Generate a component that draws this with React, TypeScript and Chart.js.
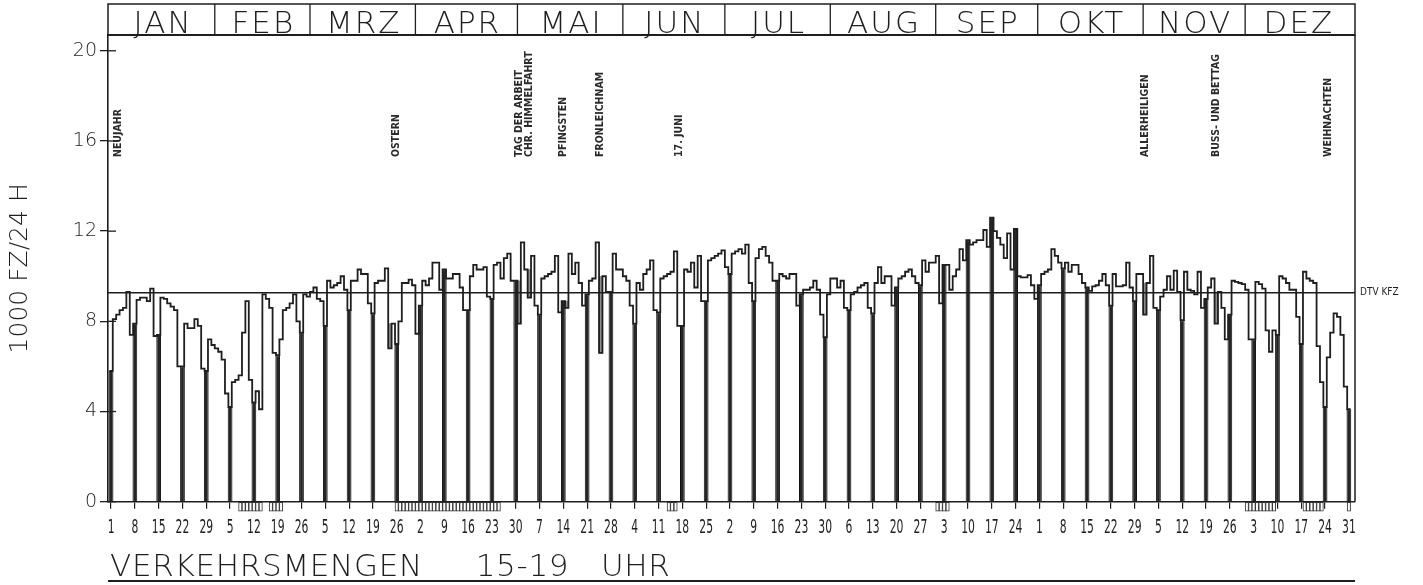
import { useEffect, useRef } from "react";
import { Chart, registerables } from "chart.js";

Chart.register(...registerables);

// ---------- DATA ----------
const MONTHS = ["JAN", "FEB", "MRZ", "APR", "MAI", "JUN", "JUL", "AUG", "SEP", "OKT", "NOV", "DEZ"];
const MONTH_LENGTHS = [31, 28, 31, 30, 31, 30, 31, 31, 30, 31, 30, 31];

// daily traffic (1000 vehicles), 1989
const JAN = [5.8, 8.1, 8.3, 8.5, 8.6, 9.3, 7.4, 7.9, 8.95, 9.05, 9.05, 8.9, 9.45, 7.35, 7.4, 9.05, 9.0, 8.8, 8.65, 8.5, 6.0, 6.0, 7.9, 7.7, 7.7, 8.1, 7.8, 5.9, 5.8, 7.2, 6.95];
const FEB = [6.8, 6.65, 6.3, 4.8, 4.2, 5.3, 5.4, 5.6, 7.5, 8.9, 5.4, 4.4, 4.9, 4.1, 9.2, 9.0, 8.6, 6.6, 6.5, 7.2, 8.5, 8.6, 8.8, 9.2, 8.0, 7.5, 9.2, 9.1];
const MRZ = [9.3, 9.5, 9.0, 8.9, 7.8, 9.8, 9.5, 9.6, 9.7, 10.0, 9.4, 8.5, 9.8, 9.8, 10.3, 10.1, 10.1, 8.8, 8.35, 9.7, 9.8, 9.8, 10.35, 6.8, 7.9, 7.0, 8.0, 9.7, 9.7, 9.85, 9.6];
const APR = [7.45, 8.7, 9.8, 9.6, 9.9, 10.6, 10.6, 9.4, 10.3, 9.9, 9.9, 10.1, 10.1, 9.5, 8.5, 8.5, 10.0, 10.5, 10.3, 10.3, 10.4, 9.1, 9.0, 10.5, 10.6, 9.9, 10.8, 11.0, 9.8, 9.8];
const MAI = [7.9, 11.5, 10.3, 9.05, 10.9, 8.7, 8.3, 9.9, 10.0, 10.1, 10.2, 10.9, 8.4, 8.9, 8.6, 11.0, 10.1, 10.6, 9.7, 8.7, 9.2, 9.8, 9.9, 11.5, 6.6, 10.0, 9.3, 9.3, 11.0, 10.3, 10.3];
const JUN = [10.0, 9.8, 8.7, 7.9, 9.7, 9.4, 10.1, 10.3, 10.7, 8.5, 8.4, 9.9, 10.0, 10.1, 10.2, 11.1, 7.8, 7.8, 10.3, 10.2, 10.6, 9.5, 10.9, 8.9, 8.9, 10.7, 10.8, 10.9, 11.0, 11.15];
const JUL = [10.4, 10.1, 11.0, 11.1, 11.2, 11.0, 11.4, 9.7, 8.9, 10.8, 11.2, 11.3, 10.9, 10.6, 9.8, 9.8, 10.1, 10.0, 9.9, 10.1, 10.1, 8.7, 9.2, 9.4, 9.4, 9.5, 9.8, 9.4, 8.3, 7.3, 9.2];
const AUG = [9.9, 9.9, 9.5, 9.8, 8.6, 8.5, 9.2, 9.3, 9.5, 9.6, 9.7, 8.6, 8.35, 9.7, 10.4, 9.7, 10.0, 10.0, 8.7, 9.5, 9.9, 10.0, 10.2, 10.3, 10.0, 9.7, 9.6, 10.7, 10.2, 10.6, 10.6];
const SEP = [10.9, 8.8, 10.5, 10.5, 9.4, 10.0, 10.3, 11.2, 10.7, 11.6, 11.4, 11.5, 11.6, 11.6, 12.05, 11.3, 12.6, 12.0, 11.7, 11.4, 10.8, 11.9, 10.3, 12.1, 10.0, 9.95, 9.95, 10.05, 9.6, 9.0];
const OKT = [9.6, 10.1, 10.2, 10.3, 11.2, 10.9, 10.6, 10.35, 10.6, 10.2, 10.5, 10.5, 10.1, 9.7, 9.5, 9.35, 9.55, 9.6, 9.8, 10.1, 9.6, 8.7, 10.1, 9.55, 9.55, 9.6, 10.6, 9.5, 8.9, 10.1, 10.1];
const NOV = [8.3, 9.7, 10.9, 8.6, 8.5, 9.1, 9.4, 10.0, 9.4, 10.25, 9.3, 8.05, 10.2, 9.4, 9.35, 9.2, 10.2, 8.6, 9.0, 9.5, 9.9, 7.9, 9.3, 8.6, 7.2, 8.3, 9.8, 9.75, 9.7, 9.65];
const DEZ = [9.4, 7.2, 7.2, 9.75, 9.65, 9.45, 7.6, 6.65, 7.6, 7.4, 10.0, 9.9, 9.7, 9.4, 9.4, 8.2, 7.0, 10.2, 9.9, 9.8, 9.7, 6.9, 5.3, 4.2, 6.4, 7.5, 8.35, 8.2, 7.4, 5.1, 4.1];

const DAILY_VALUES = [...JAN, ...FEB, ...MRZ, ...APR, ...MAI, ...JUN, ...JUL, ...AUG, ...SEP, ...OKT, ...NOV, ...DEZ];

const DTV_KFZ = 9.27;
const Y_TICKS = [0, 4, 8, 12, 16, 20];

// weekly ticks (Sundays of 1989), day of year
const X_TICK_DAYS = [1, 8, 15, 22, 29, 36, 43, 50, 57, 64, 71, 78, 85, 92, 99, 106, 113, 120, 127, 134, 141, 148, 155, 162, 169, 176, 183, 190, 197, 204, 211, 218, 225, 232, 239, 246, 253, 260, 267, 274, 281, 288, 295, 302, 309, 316, 323, 330, 337, 344, 351, 358, 365];
const X_TICK_LABELS = ["1", "8", "15", "22", "29", "5", "12", "19", "26", "5", "12", "19", "26", "2", "9", "16", "23", "30", "7", "14", "21", "28", "4", "11", "18", "25", "2", "9", "16", "23", "30", "6", "13", "20", "27", "3", "10", "17", "24", "1", "8", "15", "22", "29", "5", "12", "19", "26", "3", "10", "17", "24", "31"];
const SUNDAY_DAYS = X_TICK_DAYS;

const HOLIDAY_LABEL_DAYS = [1, 85, 121, 124, 134, 145, 168, 305, 326, 359];
const HOLIDAY_LABELS = ["NEUJAHR", "OSTERN", "TAG DER ARBEIT", "CHR. HIMMELFAHRT", "PFINGSTEN", "FRONLEICHNAM", "17. JUNI", "ALLERHEILIGEN", "BUSS- UND BETTAG", "WEIHNACHTEN"];
const SHADED_HOLIDAY_DAYS = [83, 86, 121, 124, 135, 145, 305, 326, 359, 360];

// school holidays (first day, last day)
const SCHOOL_HOLIDAY_RANGES = [[39, 45], [48, 51], [85, 115], [165, 167], [244, 247], [335, 343], [352, 357], [365, 365]];

const X_TITLE = "VERKEHRSMENGEN     15-19   UHR";
const Y_TITLE = "1000 FZ/24 H";

// ---------- STYLE ----------
const INK = "#1e1e1e";
const X_MIN = 0.1;
const X_MAX = 366.8;
const Y_MAX = 20.7;
const HEADER_TOP = 4;

const decorPlugin = {
  id: "decor",
  afterDraw(chart: any) {
    const { ctx, chartArea, scales } = chart;
    const { left, right, top, bottom } = chartArea;
    const x = scales.x;
    const y = scales.y;
    const line = (x1: number, y1: number, x2: number, y2: number, w = 1.4) => {
      ctx.lineWidth = w;
      ctx.beginPath();
      ctx.moveTo(x1, y1);
      ctx.lineTo(x2, y2);
      ctx.stroke();
    };
    ctx.save();
    ctx.strokeStyle = INK;
    ctx.fillStyle = INK;

    // header box with months
    ctx.lineWidth = 1.5;
    ctx.strokeRect(left, HEADER_TOP, right - left, top - HEADER_TOP);
    line(left, top, right, top, 2);
    ctx.font = '200 31px "DejaVu Sans"';
    ctx.textAlign = "center";
    ctx.textBaseline = "alphabetic";
    let cum = 0;
    MONTHS.forEach((m, i) => {
      const start = cum;
      cum += MONTH_LENGTHS[i];
      if (i > 0) {
        const px = x.getPixelForValue(start + 0.5);
        line(px, HEADER_TOP, px, top, 1.3);
      }
      const cx = x.getPixelForValue((start + cum) / 2 + 0.5);
      (ctx as any).letterSpacing = "2px";
      ctx.fillText(m, cx + 1, top - 2);
      (ctx as any).letterSpacing = "0px";
    });

    // right border
    line(right, top, right, bottom, 1.5);

    // inner part of y ticks
    Y_TICKS.forEach((v) => {
      const py = y.getPixelForValue(v);
      line(left, py, left + 8, py, 1.3);
    });

    // x tick labels (narrow plotter digits)
    ctx.font = '400 20px "DejaVu Sans Condensed", "DejaVu Sans"';
    ctx.textAlign = "center";
    ctx.textBaseline = "alphabetic";
    X_TICK_DAYS.forEach((d, i) => {
      const px = x.getPixelForValue(d);
      ctx.save();
      ctx.translate(px, 533);
      ctx.scale(0.6, 1);
      ctx.fillText(X_TICK_LABELS[i], 0, 0);
      ctx.restore();
    });

    // bottom title
    ctx.font = '200 31px "DejaVu Sans"';
    ctx.textAlign = "left";
    ctx.textBaseline = "alphabetic";
    (ctx as any).letterSpacing = "0.7px";
    ctx.fillText(X_TITLE, left + 2, 576);
    (ctx as any).letterSpacing = "0px";

    // DTV label
    ctx.font = '400 10px "DejaVu Sans Condensed", "DejaVu Sans"';
    ctx.textAlign = "left";
    ctx.textBaseline = "middle";
    ctx.fillText("DTV KFZ", right + 5, y.getPixelForValue(DTV_KFZ));

    // holiday labels (vertical)
    ctx.fillStyle = "#2a2a2a";
    ctx.font = '700 10.5px "DejaVu Sans Condensed", "DejaVu Sans"';
    HOLIDAY_LABEL_DAYS.forEach((d, i) => {
      const px = Math.max(x.getPixelForValue(d), left + 10);
      ctx.save();
      ctx.translate(px, 157);
      ctx.rotate(-Math.PI / 2);
      ctx.textAlign = "left";
      ctx.textBaseline = "middle";
      ctx.fillText(HOLIDAY_LABELS[i], 0, 0);
      ctx.restore();
    });

    // bottom rule
    ctx.strokeStyle = INK;
    line(left, 581, right, 581, 2.2);
    ctx.restore();
  },
};

export default function App() {
  const ref = useRef<HTMLCanvasElement>(null);

  useEffect(() => {
    const stepPoints = DAILY_VALUES.map((v, i) => ({ x: i + 0.5, y: v }));
    stepPoints.push({ x: DAILY_VALUES.length + 0.5, y: DAILY_VALUES[DAILY_VALUES.length - 1] });

    const sundayBars = SUNDAY_DAYS.map((d) => ({ x: d, y: DAILY_VALUES[d - 1] }));

    const shaded = SHADED_HOLIDAY_DAYS.map((d) => {
      const v = DAILY_VALUES[d - 1];
      const neighbour = Math.min(DAILY_VALUES[d - 2], DAILY_VALUES[d]);
      return { x: d, y: [v, Math.max(v, neighbour)] };
    });

    const school: { x: number; y: number[] }[] = [];
    SCHOOL_HOLIDAY_RANGES.forEach(([a, b]) => {
      for (let d = a; d <= b; d++) school.push({ x: d, y: [-0.42, 0] });
    });

    const chart = new Chart(ref.current as HTMLCanvasElement, {
      type: "bar",
      data: {
        datasets: [
          {
            type: "line",
            label: "Verkehrsmenge",
            data: stepPoints,
            stepped: true,
            borderColor: INK,
            borderWidth: 1.8,
            pointRadius: 0,
            fill: false,
            order: 0,
          } as any,
          {
            type: "line",
            label: "DTV KFZ",
            data: [
              { x: X_MIN, y: DTV_KFZ },
              { x: X_MAX, y: DTV_KFZ },
            ],
            borderColor: INK,
            borderWidth: 1.4,
            pointRadius: 0,
            fill: false,
            order: 1,
          } as any,
          {
            type: "bar",
            label: "Sonntag",
            data: sundayBars,
            backgroundColor: "#252525",
            borderColor: "#111111",
            borderWidth: 1,
            grouped: false,
            barPercentage: 1.4,
            categoryPercentage: 1,
            order: 2,
          } as any,
          {
            type: "bar",
            label: "Feiertag",
            data: shaded,
            backgroundColor: "#8e8e8e",
            borderWidth: 0,
            grouped: false,
            barPercentage: 1,
            categoryPercentage: 1,
            order: 3,
          } as any,
          {
            type: "bar",
            label: "Schulferien",
            data: school,
            backgroundColor: "#ffffff",
            borderColor: "#333333",
            borderWidth: 1,
            borderSkipped: false,
            grouped: false,
            barPercentage: 1,
            categoryPercentage: 1,
            clip: false,
            order: 4,
          } as any,
        ],
      },
      options: {
        responsive: false,
        animation: false,
        devicePixelRatio: 1,
        events: [],
        layout: { padding: { left: 0, right: 68, top: 35, bottom: 0 } },
        plugins: {
          legend: { display: false },
          tooltip: { enabled: false },
        },
        scales: {
          x: {
            type: "linear",
            min: X_MIN,
            max: X_MAX,
            offset: false,
            afterBuildTicks: (s: any) => {
              s.ticks = X_TICK_DAYS.map((v) => ({ value: v }));
            },
            afterFit: (s: any) => {
              s.height = 83.3;
            },
            ticks: { display: false, autoSkip: false },
            grid: { offset: false, drawOnChartArea: false, drawTicks: true, tickLength: 7, color: INK, lineWidth: 1.2 },
            border: { display: true, color: INK, width: 1.6 },
            title: { display: false },
          },
          y: {
            type: "linear",
            min: 0,
            max: Y_MAX,
            afterBuildTicks: (s: any) => {
              s.ticks = Y_TICKS.map((v) => ({ value: v }));
            },
            afterFit: (s: any) => {
              s.width = 108;
            },
            ticks: {
              color: INK,
              padding: 3,
              font: { family: "DejaVu Sans", size: 19, weight: 200 },
              callback: (v: any) => String(v),
            },
            grid: { drawOnChartArea: false, drawTicks: true, tickLength: 8, color: INK, lineWidth: 1.3 },
            border: { display: true, color: INK, width: 1.6 },
            title: {
              display: true,
              text: Y_TITLE,
              color: INK,
              font: { family: "DejaVu Sans", size: 25, weight: 200 },
              padding: { top: 5, bottom: 0 },
            },
          },
        },
      } as any,
      plugins: [decorPlugin],
    });
    return () => chart.destroy();
  }, []);

  return (
    <div style={{ position: "fixed", left: 0, top: 0, width: 1423, height: 585, background: "#ffffff" }}>
      <canvas ref={ref} width={1423} height={585} style={{ display: "block" }} />
    </div>
  );
}
